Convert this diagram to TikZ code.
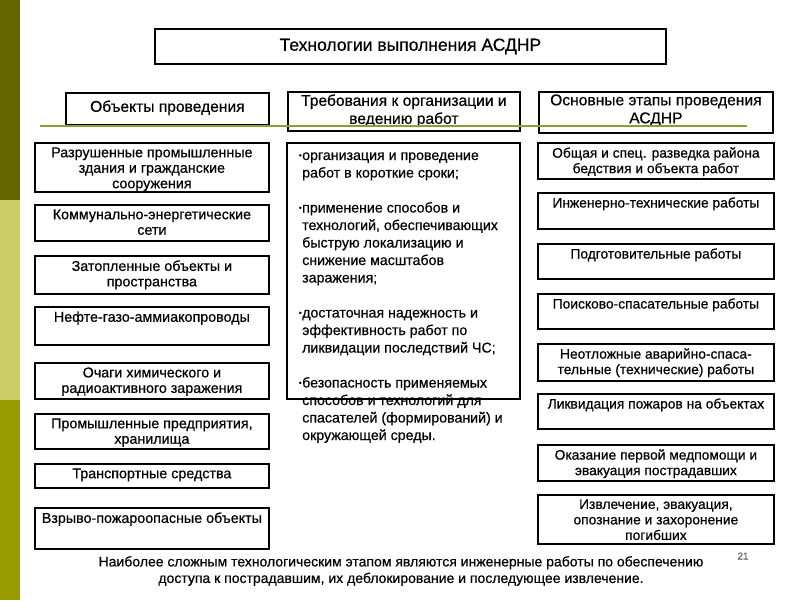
\documentclass[tikz,border=0pt]{standalone}
\usepackage{fontspec}
\setmainfont{Liberation Sans}[FakeBold=0.5]
\definecolor{bardark}{HTML}{666600}
\definecolor{barlight}{HTML}{CCCC66}
\definecolor{barmid}{HTML}{999900}
\definecolor{rulecol}{HTML}{999933}
\tikzset{
  bx/.style={draw=black, line width=1.8pt, inner sep=0pt, anchor=north west, fill=white},
  freetext/.style={inner sep=0pt, align=center},
}
\newcommand\bxgen[6]{\parbox[c][#3pt][t]{#2pt}{\centering\fontsize{#1}{#5}\selectfont\vspace*{#4pt}#6\par}}
\newcommand\bxl[3]{\bxgen{14.3}{#1}{#2}{4.5}{15.5}{#3}}
\newcommand\bxr[3]{\bxgen{13.8}{#1}{#2}{4.5}{15.5}{#3}}
\newcommand\bxh[4]{\bxgen{15.6}{#1}{#2}{#3}{18}{#4}}
\newcommand\bul{\leavevmode\llap{\fontsize{8}{8}\selectfont\raisebox{2pt}{•}\hspace{0.5pt}}}
\begin{document}
\begin{tikzpicture}[x=1pt,y=-1pt]
\useasboundingbox (0,0) rectangle (800,600);
\fill[white] (0,0) rectangle (800,600);
% left bar
\fill[bardark] (0,0) rectangle (20,200);
\fill[barlight] (0,200) rectangle (20,400);
\fill[barmid] (0,400) rectangle (20,600);
% title
\node[bx] (title) at (154,28) {\parbox[c][35pt][c]{511pt}{\centering\fontsize{17.5}{19}\selectfont Технологии выполнения АСДНР}};
% headers
\node[bx] (h1) at (65,92) {\bxh{203}{32}{7.5}{Объекты проведения}};
\node[bx] (h2) at (287,91) {\bxh{232}{39}{2.5}{Требования к организации и\\ведению работ}};
\node[bx] (h3) at (538,91) {\bxh{234}{41}{2.5}{Основные этапы проведения\\АСДНР}};
% left column
\node[bx] (l1) at (34,142) {\bxl{234}{49}{Разрушенные промышленные\\здания и гражданские\\сооружения}};
\node[bx] (l2) at (34,204) {\bxl{234}{36}{Коммунально-энергетические\\сети}};
\node[bx] (l3) at (34,255) {\bxl{234}{38}{Затопленные объекты и\\пространства}};
\node[bx] (l4) at (34,306) {\bxl{234}{38}{Нефте-газо-аммиакопроводы}};
\node[bx] (l5) at (34,362) {\bxl{234}{36}{Очаги химического и\\радиоактивного заражения}};
\node[bx] (l6) at (34,413) {\bxl{234}{35}{Промышленные предприятия,\\хранилища}};
\node[bx] (l7) at (34,463) {\bxl{234}{24}{Транспортные средства}};
\node[bx] (l8) at (34,507) {\bxl{234}{41}{Взрыво-пожароопасные объекты}};
% middle
\node[bx] (mid) at (286,142) {\parbox[c][256pt][t]{233pt}{\mbox{}}};
\node[inner sep=0pt, anchor=base west] (midtext) at (302,160) {\parbox[t]{215pt}{\raggedright\fontsize{14.2}{17.5}\selectfont
\bul организация и проведение\\
работ в короткие сроки;\\[17.5pt]
\bul применение способов и\\
технологий, обеспечивающих\\
быструю локализацию и\\
снижение масштабов\\
заражения;\\[17.5pt]
\bul достаточная надежность и\\
эффективность работ по\\
ликвидации последствий ЧС;\\[17.5pt]
\bul безопасность применяемых\\
способов и технологий для\\
спасателей (формирований) и\\
окружающей среды.}};
% right column
\node[bx] (r1) at (537,142) {\bxr{236}{36}{Общая и спец. разведка района\\бедствия и объекта работ}};
\node[bx] (r2) at (537,192) {\bxr{236}{36}{Инженерно-технические работы}};
\node[bx] (r3) at (537,243) {\bxr{236}{35}{Подготовительные работы}};
\node[bx] (r4) at (537,293) {\bxr{236}{35}{Поисково-спасательные работы}};
\node[bx] (r5) at (537,343) {\bxr{236}{37}{Неотложные аварийно-спаса-\\тельные (технические) работы}};
\node[bx] (r6) at (537,393) {\bxr{236}{35}{Ликвидация пожаров на объектах}};
\node[bx] (r7) at (537,444) {\bxr{236}{36}{Оказание первой медпомощи и\\эвакуация пострадавших}};
\node[bx] (r8) at (537,494) {\bxr{236}{49}{Извлечение, эвакуация,\\опознание и захоронение\\погибших}};
% rule
\coordinate (ruleL) at (40,126);
\coordinate (ruleR) at (747,126);
\draw[rulecol, line width=1.6pt] (ruleL) -- (ruleR);
% footer
\node[freetext, font=\fontsize{14}{16.5}\selectfont] (foot) at (401,571) {Наиболее сложным технологическим этапом являются инженерные работы по обеспечению\\доступа к пострадавшим, их деблокирование и последующее извлечение.};
\node[inner sep=0pt, text=black!60, font=\fontsize{10}{12}\selectfont] (pnum) at (743,556) {21};
\end{tikzpicture}
\end{document}
